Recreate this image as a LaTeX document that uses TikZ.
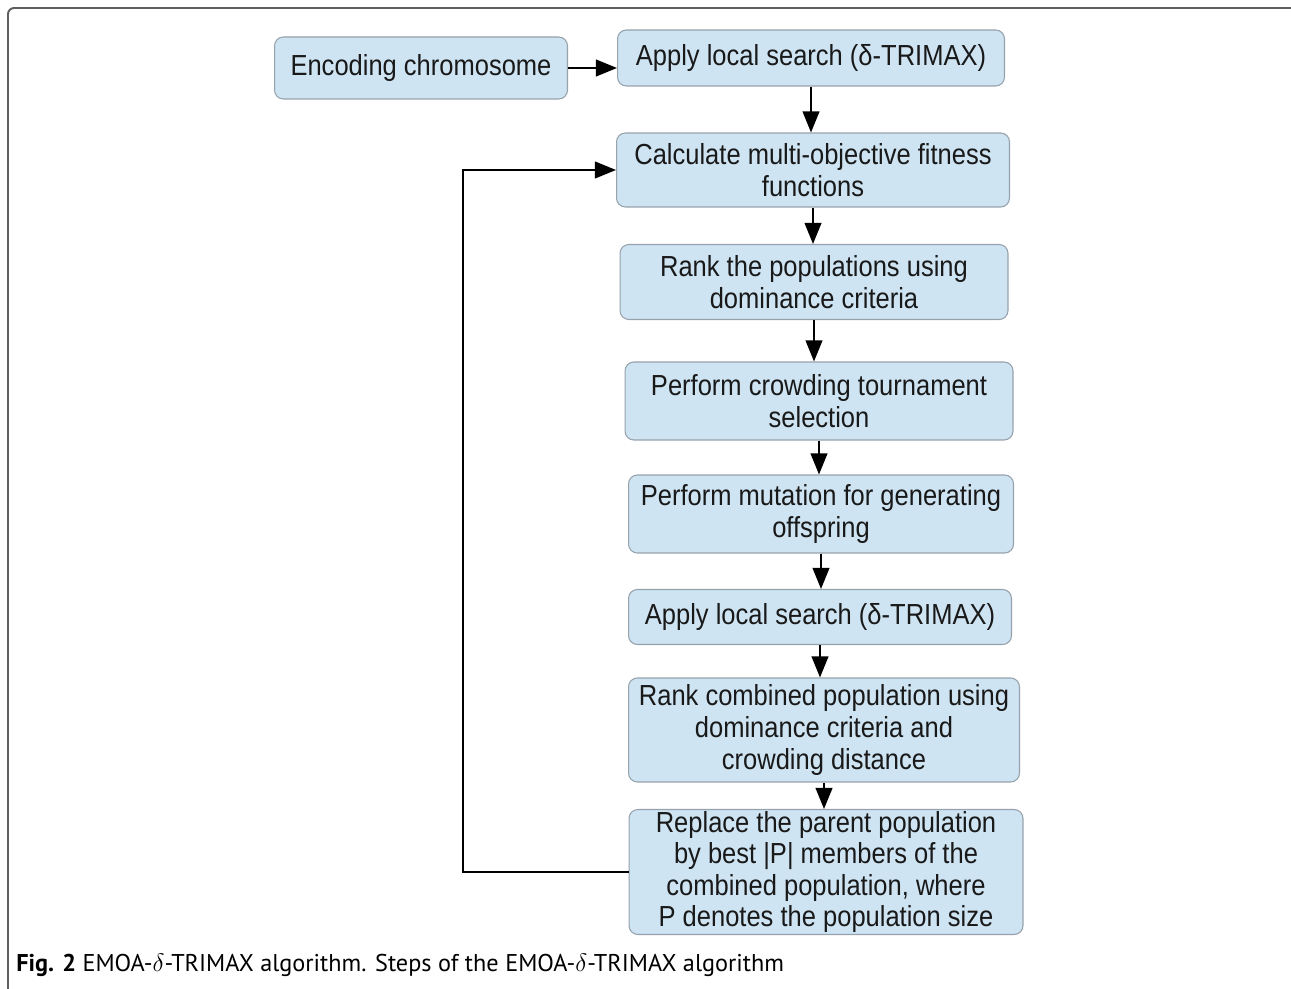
\documentclass[tikz,border=0pt]{standalone}
\usepackage{fontspec}
\setmainfont{Liberation Sans}
\newfontfamily\boxfont[FakeStretch=0.88]{Liberation Sans}
\newfontfamily\capfont{PT Sans}
\usetikzlibrary{arrows.meta}
\definecolor{boxfill}{RGB}{206,228,242}
\definecolor{boxline}{RGB}{150,162,172}
\definecolor{boxtext}{RGB}{25,25,25}
\definecolor{framecol}{RGB}{95,95,95}
\tikzset{
  stepbox/.style={draw=boxline, fill=boxfill, rounded corners=5pt, line width=0.6pt,
    align=center, inner sep=0pt, text=boxtext,
    font=\boxfont\fontsize{16.5}{18}\selectfont},
  arr/.style={-{Triangle[length=12pt, width=9.5pt]}, line width=1.1pt, black}
}
\begin{document}
\begin{tikzpicture}[x=0.02cm, y=-0.02cm]
  \useasboundingbox (0,0) rectangle (1291,989);
  % frame
  \draw[framecol, line width=1.1pt, rounded corners=3.5pt] (8,989) |- (1291,8);

  % boxes
  \node[stepbox, minimum width=5.86cm, minimum height=1.24cm] (b1) at (421,68) {Encoding chromosome};
  \node[stepbox, minimum width=7.74cm, minimum height=1.12cm] (b2) at (811,58) {Apply local search (δ-TRIMAX)};
  \node[stepbox, minimum width=7.86cm, minimum height=1.48cm] (b3) at (813,170) {Calculate multi-objective fitness\\functions};
  \node[stepbox, minimum width=7.76cm, minimum height=1.50cm] (b4) at (814,282) {Rank the populations using\\dominance criteria};
  \node[stepbox, minimum width=7.76cm, minimum height=1.56cm] (b5) at (819,401) {Perform crowding tournament\\selection};
  \node[stepbox, minimum width=7.70cm, minimum height=1.56cm] (b6) at (821,514) {Perform mutation for generating\\offspring};
  \node[stepbox, minimum width=7.66cm, minimum height=1.10cm] (b7) at (820,617) {Apply local search (δ-TRIMAX)};
  \node[stepbox, minimum width=7.82cm, minimum height=2.08cm] (b8) at (824,730) {Rank combined population using\\dominance criteria and\\crowding distance};
  \node[stepbox, minimum width=7.88cm, minimum height=2.50cm] (b9) at (826,872) {Replace the parent population\\by best |P| members of the\\combined population, where\\P denotes the population size};

  \coordinate (loop) at (463,500);

  % arrows
  \draw[arr] (b1.east) -- (b1.east -| b2.west);
  \draw[arr] (b2.south) -- (b2.south |- b3.north);
  \draw[arr] (b3.south) -- (b3.south |- b4.north);
  \draw[arr] (b4.south) -- (b4.south |- b5.north);
  \draw[arr] (b5.south) -- (b5.south |- b6.north);
  \draw[arr] (b6.south) -- (b6.south |- b7.north);
  \draw[arr] (b7.south) -- (b7.south |- b8.north);
  \draw[arr] (b8.south) -- (b8.south |- b9.north);

  % back to fitness
  \draw[arr] (b9.west) -- (b9.west -| loop) -- (b3.west -| loop) -- (b3.west);

  % caption
  \node[anchor=base west, inner sep=0pt, font=\capfont\fontsize{13.8}{16}\selectfont] (cap) at (16,971)
    {\textbf{Fig. 2} EMOA-$\delta$-TRIMAX algorithm. Steps of the EMOA-$\delta$-TRIMAX algorithm};
\end{tikzpicture}
\end{document}
